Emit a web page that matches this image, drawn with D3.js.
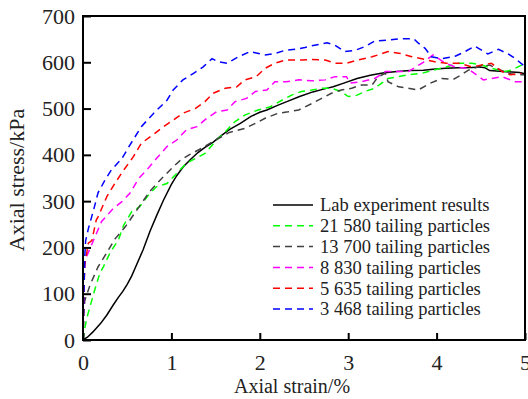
<!DOCTYPE html>
<html>
<head>
<meta charset="utf-8">
<script src="https://cdn.jsdelivr.net/npm/d3@7"></script>
<style>
  body { margin: 0; background: #fff; }
  svg { display: block; font-family: "Liberation Serif", "DejaVu Serif", serif; }
</style>
</head>
<body>
<div id="chart"></div>
<script>
/* Axial stress vs axial strain, lab test against DEM runs */

const xTicks = [0, 1, 2, 3, 4, 5];
const yTicks = [0, 100, 200, 300, 400, 500, 600, 700];

const seriesNames = [
  "Lab experiment results",
  "21 580 tailing particles",
  "13 700 tailing particles",
  "8 830 tailing particles",
  "5 635 tailing particles",
  "3 468 tailing particles"
];

// [strain %, stress kPa]
const labData = [[0,0],[0.05,6],[0.11,17],[0.2,36],[0.27,54],[0.34,75],[0.4,92],[0.45,105],[0.5,120],[0.55,138],[0.6,160],[0.68,195],[0.76,236],[0.84,272],[0.91,302],[1.0,336],[1.06,355],[1.13,373],[1.21,389],[1.3,405],[1.38,416],[1.47,427],[1.56,441],[1.66,455],[1.78,468],[1.9,483],[2.0,492],[2.08,497],[2.2,507],[2.32,516],[2.45,526],[2.6,536],[2.72,542],[2.83,547],[2.95,555],[3.1,565],[3.25,572],[3.39,577],[3.55,580],[3.7,582],[3.85,583],[3.96,585],[4.1,587],[4.25,588],[4.4,589],[4.49,590],[4.55,588],[4.6,582],[4.75,580],[4.94,578],[5.0,575]];

const p21580 = [[0,0],[0.02,25],[0.04,45],[0.12,100],[0.19,144],[0.23,158],[0.31,190],[0.4,216],[0.46,248],[0.55,277],[0.64,288],[0.74,313],[0.83,331],[0.95,338],[1.04,356],[1.17,382],[1.27,392],[1.38,403],[1.51,432],[1.59,446],[1.66,460],[1.72,472],[1.83,486],[1.98,497],[2.12,504],[2.25,518],[2.36,529],[2.47,537],[2.59,540],[2.7,544],[2.81,544],[2.92,537],[3.0,526],[3.1,529],[3.19,537],[3.3,544],[3.45,565],[3.57,569],[3.68,573],[3.83,576],[3.96,583],[4.11,590],[4.25,598],[4.4,598],[4.51,594],[4.62,587],[4.77,580],[4.85,583],[4.96,594],[5.0,600]];

const p13700 = [[0,0],[0.01,60],[0.02,85],[0.08,119],[0.17,158],[0.27,189],[0.36,218],[0.48,245],[0.57,270],[0.66,295],[0.76,322],[0.89,349],[1.02,374],[1.1,388],[1.2,400],[1.35,415],[1.5,432],[1.65,448],[1.83,457],[1.95,468],[2.06,479],[2.21,490],[2.32,493],[2.44,497],[2.59,511],[2.7,522],[2.81,533],[2.92,540],[3.04,544],[3.15,551],[3.27,551],[3.34,569],[3.42,576],[3.45,558],[3.57,547],[3.68,544],[3.79,540],[3.93,555],[4.06,565],[4.19,563],[4.28,573],[4.36,583],[4.47,590],[4.6,594],[4.7,585],[4.81,576],[4.92,573],[5.0,573]];

const p8830 = [[0,0],[0.01,120],[0.02,165],[0.04,180],[0.12,216],[0.21,256],[0.34,284],[0.44,299],[0.53,317],[0.63,349],[0.72,367],[0.83,392],[0.95,418],[1.06,432],[1.17,454],[1.29,461],[1.4,479],[1.51,493],[1.63,497],[1.72,515],[1.85,522],[1.95,537],[2.08,540],[2.17,558],[2.3,558],[2.44,562],[2.59,560],[2.74,562],[2.85,569],[2.98,569],[3.02,555],[3.15,558],[3.3,565],[3.42,580],[3.68,580],[3.85,600],[3.96,616],[4.1,598],[4.21,590],[4.34,587],[4.4,580],[4.53,562],[4.74,569],[4.89,558],[4.98,558]];

const p5635 = [[0,0],[0.01,100],[0.02,162],[0.06,209],[0.1,215],[0.15,259],[0.17,266],[0.27,310],[0.36,338],[0.46,367],[0.57,396],[0.66,425],[0.81,446],[0.91,461],[1.02,475],[1.13,490],[1.27,500],[1.38,515],[1.47,533],[1.61,544],[1.74,547],[1.83,562],[1.96,569],[2.06,587],[2.17,598],[2.29,605],[2.47,605],[2.59,606],[2.74,605],[2.85,598],[2.98,598],[3.11,605],[3.27,612],[3.34,616],[3.45,623],[3.59,619],[3.72,612],[3.87,606],[3.98,601],[4.11,598],[4.25,598],[4.4,590],[4.51,594],[4.62,598],[4.74,580],[4.83,573],[4.96,576]];

const p3468 = [[0,0],[0.01,100],[0.02,180],[0.03,215],[0.06,240],[0.12,281],[0.17,318],[0.25,346],[0.32,367],[0.44,392],[0.53,421],[0.66,461],[0.8,490],[0.95,518],[1.02,540],[1.13,562],[1.25,576],[1.36,590],[1.46,608],[1.53,601],[1.63,598],[1.76,612],[1.89,623],[1.96,620],[2.06,616],[2.17,619],[2.29,626],[2.4,628],[2.51,632],[2.62,637],[2.76,642],[2.85,637],[2.96,623],[3.08,626],[3.19,634],[3.3,646],[3.45,648],[3.6,651],[3.74,651],[3.79,642],[3.87,630],[3.94,612],[4.06,608],[4.21,613],[4.32,623],[4.43,635],[4.58,618],[4.7,628],[4.81,618],[4.89,608],[4.98,594]];

const seriesData = [labData, p21580, p13700, p8830, p5635, p3468];
const colors = ["#000000", "#00ff00", "#404040", "#ff00ff", "#ff0000", "#0000ff"];

const width = 528,
  height = 399,
  margin = {top: 16, right: 3, bottom: 59, left: 83};

const x = d3.scaleLinear().domain([0, 5]).range([margin.left, width - margin.right]);
const y = d3.scaleLinear().domain([0, 700]).range([height - margin.bottom, margin.top]);

const svg = d3.select("#chart")
  .append("svg")
  .attr("width", width)
  .attr("height", height);

svg.append("clipPath")
  .attr("id", "plot-clip")
  .append("rect")
  .attr("x", margin.left)
  .attr("y", margin.top)
  .attr("width", x(5) - margin.left)
  .attr("height", y(0) - margin.top);

const line = d3.line().x(d => x(d[0])).y(d => y(d[1]));

svg.append("g")
  .attr("clip-path", "url(#plot-clip)")
  .attr("fill", "none")
  .selectAll("path")
  .data(seriesData)
  .join("path")
  .attr("stroke", (d, i) => colors[i])
  .attr("stroke-width", 1.5)
  .attr("stroke-dasharray", (d, i) => i ? "7,5" : null)
  .attr("d", line);

// axes, ticks pointing inward
const xAxis = svg.append("g")
  .attr("transform", `translate(0,${y(0)})`)
  .call(d3.axisBottom(x).tickValues(xTicks).tickSize(-7).tickPadding(14).tickFormat(d3.format("d")));

const yAxis = svg.append("g")
  .attr("transform", `translate(${x(0)},0)`)
  .call(d3.axisLeft(y).tickValues(yTicks).tickSize(-8).tickPadding(8));

[xAxis, yAxis].forEach(g => {
  g.select(".domain").remove();
  g.selectAll(".tick line").attr("stroke", "#000").attr("stroke-width", 2);
  g.selectAll(".tick text")
    .attr("fill", "#222")
    .style("font-family", "'Liberation Serif', serif")
    .style("font-size", "22px");
});

// frame
svg.append("rect")
  .attr("x", x(0))
  .attr("y", y(700))
  .attr("width", x(5) - x(0))
  .attr("height", y(0) - y(700))
  .attr("fill", "none")
  .attr("stroke", "#000")
  .attr("stroke-width", 2);

svg.append("text")
  .attr("x", 292)
  .attr("y", 393)
  .attr("text-anchor", "middle")
  .attr("fill", "#222")
  .style("font-size", "20px")
  .text("Axial strain/%");

svg.append("text")
  .attr("transform", "translate(24,180) rotate(-90)")
  .attr("text-anchor", "middle")
  .attr("fill", "#222")
  .style("font-size", "22px")
  .text("Axial stress/kPa");

// legend
const legend = svg.append("g")
  .selectAll("g")
  .data(seriesNames)
  .join("g")
  .attr("transform", (d, i) => `translate(273,${205 + i * 20.8})`);

legend.append("line")
  .attr("x2", 40)
  .attr("stroke", (d, i) => colors[i])
  .attr("stroke-width", 1.5)
  .attr("stroke-dasharray", (d, i) => i ? "7,5" : null);

legend.append("text")
  .attr("x", 47)
  .attr("dy", "0.35em")
  .attr("fill", "#222")
  .style("font-size", "18.5px")
  .text(d => d);
</script>
</body>
</html>
